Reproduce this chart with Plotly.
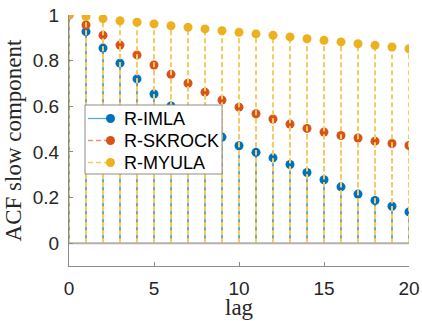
import plotly.graph_objects as go

lags = list(range(0, 21))
imla = [1.0, 0.927, 0.855, 0.789, 0.720, 0.654, 0.601, 0.557, 0.510, 0.465, 0.427,
        0.398, 0.374, 0.345, 0.310, 0.278, 0.247, 0.215, 0.187, 0.162, 0.137]
skrock = [1.0, 0.956, 0.911, 0.868, 0.825, 0.781, 0.740, 0.701, 0.662, 0.627, 0.596,
          0.567, 0.544, 0.522, 0.503, 0.487, 0.472, 0.461, 0.447, 0.437, 0.428]
myula = [1.0, 0.993, 0.984, 0.975, 0.968, 0.961, 0.953, 0.946, 0.939, 0.931, 0.924,
         0.917, 0.911, 0.904, 0.896, 0.889, 0.882, 0.874, 0.867, 0.860, 0.852]

names = ["R-IMLA", "R-SKROCK", "R-MYULA"]
colors = ["#0072BD", "#D95319", "#EDB120"]
stem_colors = ["#5aa8dc", "#ec9272", "#f6cc5c"]
dashes = ["solid", "5px,3px", "5px,3px"]
values = [imla, skrock, myula]

W, H = 422, 321
ML, MR, MT, MB = 69, 13, 15, 55
PW, PH = W - ML - MR, H - MT - MB


def px(x):
    return (x - ML) / PW


def py(y):
    return (H - MB - y) / PH


fig = go.Figure()

for name, vals, color, scol, dash in zip(names, values, colors, stem_colors, dashes):
    sx, sy = [], []
    for l, v in zip(lags, vals):
        sx += [l, l, None]
        sy += [0, v, None]
    fig.add_trace(go.Scatter(x=sx, y=sy, mode="lines",
                             line=dict(color=scol, width=2, dash=dash),
                             showlegend=False, hoverinfo="skip"))
    fig.add_trace(go.Scatter(x=lags, y=vals, mode="markers", name=name,
                             marker=dict(color=color, size=9, line=dict(width=0)),
                             showlegend=False))

# stem baseline
fig.add_trace(go.Scatter(x=[min(lags), max(lags)], y=[0, 0], mode="lines",
                         line=dict(color="#b0b0b0", width=2), showlegend=False,
                         hoverinfo="skip"))

# legend (MATLAB style, drawn in paper coordinates)
shapes = [dict(type="rect", xref="paper", yref="paper", layer="above",
               x0=px(85), x1=px(222), y0=py(174), y1=py(105),
               fillcolor="white", line=dict(color="#8c8c8c", width=1))]
annotations = []
entry_y = [118.5, 140.5, 162.5]
for name, scol, color, dash, ey in zip(names, stem_colors, colors, dashes, entry_y):
    shapes.append(dict(type="line", xref="paper", yref="paper", layer="above",
                       x0=px(88), x1=px(110), y0=py(ey), y1=py(ey),
                       line=dict(color=scol, width=1.3, dash=dash)))
    shapes.append(dict(type="circle", xref="paper", yref="paper", layer="above",
                       xsizemode="pixel", ysizemode="pixel",
                       xanchor=px(110.5), yanchor=py(ey),
                       x0=-4.5, x1=4.5, y0=-4.5, y1=4.5,
                       fillcolor=color, line=dict(width=0)))
    annotations.append(dict(text=name, xref="paper", yref="paper", x=px(122),
                            y=py(ey + 0.5), xanchor="left", yanchor="middle",
                            showarrow=False,
                            font=dict(family="Liberation Sans, Arial", size=18,
                                      color="#000000")))

# x-axis title
annotations.append(dict(text="lag", xref="paper", yref="paper", x=0.5, y=py(307),
                        xanchor="center", yanchor="middle", showarrow=False,
                        font=dict(family="Liberation Serif, serif", size=23,
                                  color="#262626")))

fig.update_layout(
    width=W, height=H,
    margin=dict(l=ML, r=MR, t=MT, b=MB, autoexpand=False),
    plot_bgcolor="white", paper_bgcolor="white",
    font=dict(family="Liberation Sans, Arial", size=19, color="#262626"),
    showlegend=False,
    shapes=shapes,
    annotations=annotations,
    xaxis=dict(range=[0, 20], tickvals=[0, 5, 10, 15, 20], ticks="inside",
               ticklen=4, tickcolor="#8c8c8c", showline=True, linecolor="#8c8c8c",
               linewidth=1, showgrid=False, zeroline=False, ticklabelstandoff=5,
               automargin=False),
    yaxis=dict(range=[-0.1, 1], tickvals=[0, 0.2, 0.4, 0.6, 0.8, 1],
               ticktext=["0", "0.2", "0.4", "0.6", "0.8", "1"], ticks="inside",
               ticklen=4, tickcolor="#8c8c8c", showline=True, linecolor="#8c8c8c",
               linewidth=1, showgrid=False, zeroline=False, ticklabelstandoff=5,
               automargin=False,
               title=dict(text="ACF slow component",
                          font=dict(family="Liberation Serif, serif", size=23,
                                    color="#262626"), standoff=4)),
)

fig.write_html("out.html", config={"displayModeBar": False},
               post_script="document.body.style.margin='0';document.body.style.overflow='hidden';")
